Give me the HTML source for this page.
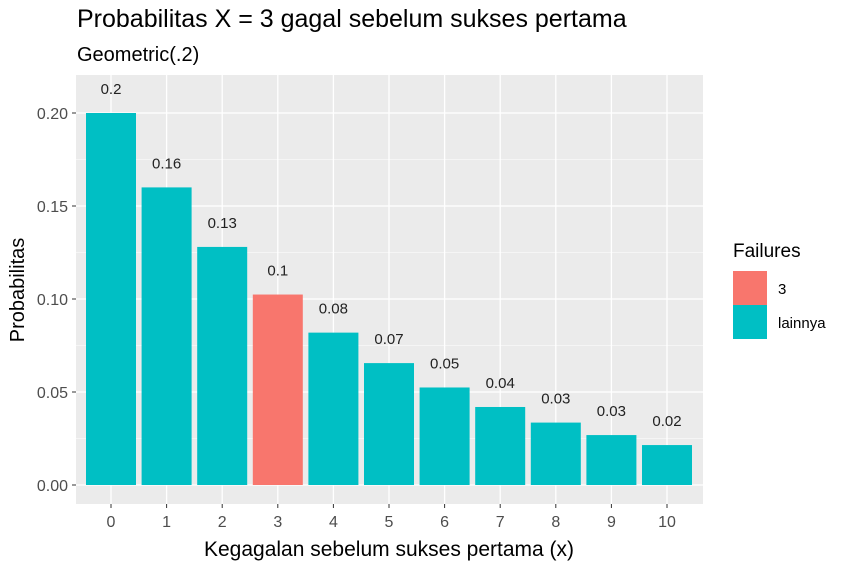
<!DOCTYPE html>
<html><head><meta charset="utf-8"><style>
body{margin:0;background:#fff;}
svg{display:block;font-family:"Liberation Sans",Arial,sans-serif;}
</style></head><body>
<svg id="chart" width="862" height="570">
<rect width="862" height="570" fill="#fff"/>
<text x="77" y="27" font-size="25" fill="#000">Probabilitas X = 3 gagal sebelum sukses pertama</text>
<text x="77" y="61" font-size="20" fill="#000">Geometric(.2)</text>
<rect x="76" y="75" width="627" height="429" fill="#ebebeb"/>
<g id="grid"></g><g id="bars"></g><g id="axes"></g>
<text x="389" y="556" font-size="21" text-anchor="middle">Kegagalan sebelum sukses pertama (x)</text>
<text transform="translate(24,290) rotate(-90)" font-size="20" text-anchor="middle">Probabilitas</text>
<g>
<text x="733" y="257" font-size="19">Failures</text>
<rect x="733" y="271" width="34" height="34" fill="#f8766d"/>
<text x="778" y="294" font-size="15">3</text>
<rect x="733" y="305" width="34" height="34" fill="#00bfc4"/>
<text x="778" y="328" font-size="15">lainnya</text>
</g>
</svg>
<script>
const categories=[0,1,2,3,4,5,6,7,8,9,10];
const values=[0.2,0.16,0.128,0.1024,0.08192,0.065536,0.052429,0.041943,0.033554,0.026844,0.021475];
const labels=["0.2","0.16","0.13","0.1","0.08","0.07","0.05","0.04","0.03","0.03","0.02"];
const highlight=[false,false,false,true,false,false,false,false,false,false,false];
const yTicks=[0,0.05,0.1,0.15,0.2];
const yTickLabels=["0.00","0.05","0.10","0.15","0.20"];
const NS="http://www.w3.org/2000/svg";
const x=c=>111+(c-categories[0])*55.6;
const y=v=>485-v*1860;
const bw=50;
function mk(tag,attrs,parent,text){const e=document.createElementNS(NS,tag);for(const k in attrs)e.setAttribute(k,attrs[k]);if(text!==undefined)e.textContent=text;document.getElementById(parent).appendChild(e);return e;}
const g='grid';
for(let i=0;i<yTicks.length-1;i++){const m=(yTicks[i]+yTicks[i+1])/2;const e=mk('line',{x1:76,x2:703,y1:y(m),y2:y(m),stroke:'#fff','stroke-width':0.6},g);

}
yTicks.forEach((t,i)=>{const e=mk('line',{x1:76,x2:703,y1:y(t),y2:y(t),stroke:'#fff','stroke-width':1.3},g);


const tk=mk('line',{x1:72,x2:76,y1:y(t),y2:y(t),stroke:'#333','stroke-width':1},'axes');


const l=mk('text',{x:68,y:y(t)+6,'font-size':16,'text-anchor':'end',fill:'#4d4d4d'},'axes',yTickLabels[i]);

});
categories.forEach((c,i)=>{const e=mk('line',{x1:x(c),x2:x(c),y1:75,y2:504,stroke:'#fff','stroke-width':1.3},g);


const b=mk('rect',{x:x(c)-bw/2,y:y(values[i]),width:bw,height:y(0)-y(values[i]),fill:highlight[i]?'#f8766d':'#00bfc4'},'bars');


const v=mk('text',{x:x(c),y:y(values[i])-19,'font-size':15,'text-anchor':'middle',fill:'#222'},'bars',labels[i]);


const tk=mk('line',{x1:x(c),x2:x(c),y1:504,y2:508,stroke:'#333','stroke-width':1},'axes');


const l=mk('text',{x:x(c),y:527,'font-size':16,'text-anchor':'middle',fill:'#4d4d4d'},'axes',String(c));

});
</script>
</body></html>
